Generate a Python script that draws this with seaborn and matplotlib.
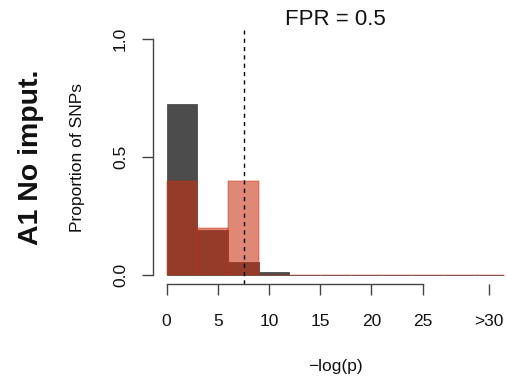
import numpy as np
import pandas as pd
import matplotlib
matplotlib.use("Agg")
import matplotlib.pyplot as plt
import seaborn as sns

# ---- data ----
bin_edges = [0, 3, 6, 9, 12, 15, 18, 21, 24, 27, 30, 33]
bin_centers = [1.5, 4.5, 7.5, 10.5, 13.5, 16.5, 19.5, 22.5, 25.5, 28.5, 31.5]
no_imput = [0.725, 0.19, 0.055, 0.013, 0, 0, 0, 0, 0, 0, 0]
fpr_series = [0.40, 0.20, 0.40, 0, 0, 0, 0, 0, 0, 0, 0]
threshold = 7.58
x_ticks = [0, 5, 10, 15, 20, 25, 31.5]
x_tick_labels = ["0", "5", "10", "15", "20", "25", ">30"]
y_ticks = [0.0, 0.5, 1.0]
y_tick_labels = ["0.0", "0.5", "1.0"]

sns.set_style("white")
plt.rcParams["font.family"] = ["Liberation Sans", "DejaVu Sans"]

W, H = 507, 383
fig = plt.figure(figsize=(W / 100, H / 100), dpi=100)
left_px, right_px, top_px, bot_px = 153, 518, 29.6, 284.4
ax = fig.add_axes([left_px / W, 1 - bot_px / H, (right_px - left_px) / W, (bot_px - top_px) / H])

df = pd.DataFrame({"center": bin_centers, "dark": no_imput, "red": fpr_series})

sns.histplot(data=df, x="center", weights="dark", bins=bin_edges, stat="count",
             color="black", alpha=0.7, edgecolor="#4d4d4d", linewidth=0.6, ax=ax)
sns.histplot(data=df, x="center", weights="red", bins=bin_edges, stat="count",
             color="#ca3011", alpha=0.58, edgecolor="#ca3011", linewidth=0.35, ax=ax)

ax.axvline(threshold, color="black", linestyle=(0, (3, 3)), linewidth=1.0)

ax.set_xlim(-1.32, 34.32)
ax.set_ylim(-0.04, 1.04)

for s in ["top", "right"]:
    ax.spines[s].set_visible(False)
ax.spines["left"].set_bounds(0, 1)
ax.spines["bottom"].set_bounds(0, 25)
for s in ["left", "bottom"]:
    ax.spines[s].set_color("#444444")
    ax.spines[s].set_linewidth(1.0)

ax.set_xticks(x_ticks)
ax.set_xticklabels(x_tick_labels)
ax.set_yticks(y_ticks)
ax.set_yticklabels(y_tick_labels, rotation=90, va="center")
ax.tick_params(axis="both", which="both", direction="out", length=8, width=1.0,
               color="#444444", labelsize=12.5, labelcolor="#111111")
ax.tick_params(axis="x", pad=13, bottom=True)
ax.tick_params(axis="y", pad=10, left=True)

ax.set_xlabel("\u2212log(p)", fontsize=12.5, labelpad=22, color="#111111")
ax.set_ylabel("Proportion of SNPs", fontsize=12.5, labelpad=20.5, color="#111111")
ax.set_title("FPR = 0.5", fontsize=16, pad=3, color="#111111")

fig.text(31 / W, 1 - 157 / H, "A1 No imput.", rotation=90, fontsize=20.5,
         fontweight="bold", ha="center", va="center", color="#111111")

fig.savefig("out.png", dpi=100)
